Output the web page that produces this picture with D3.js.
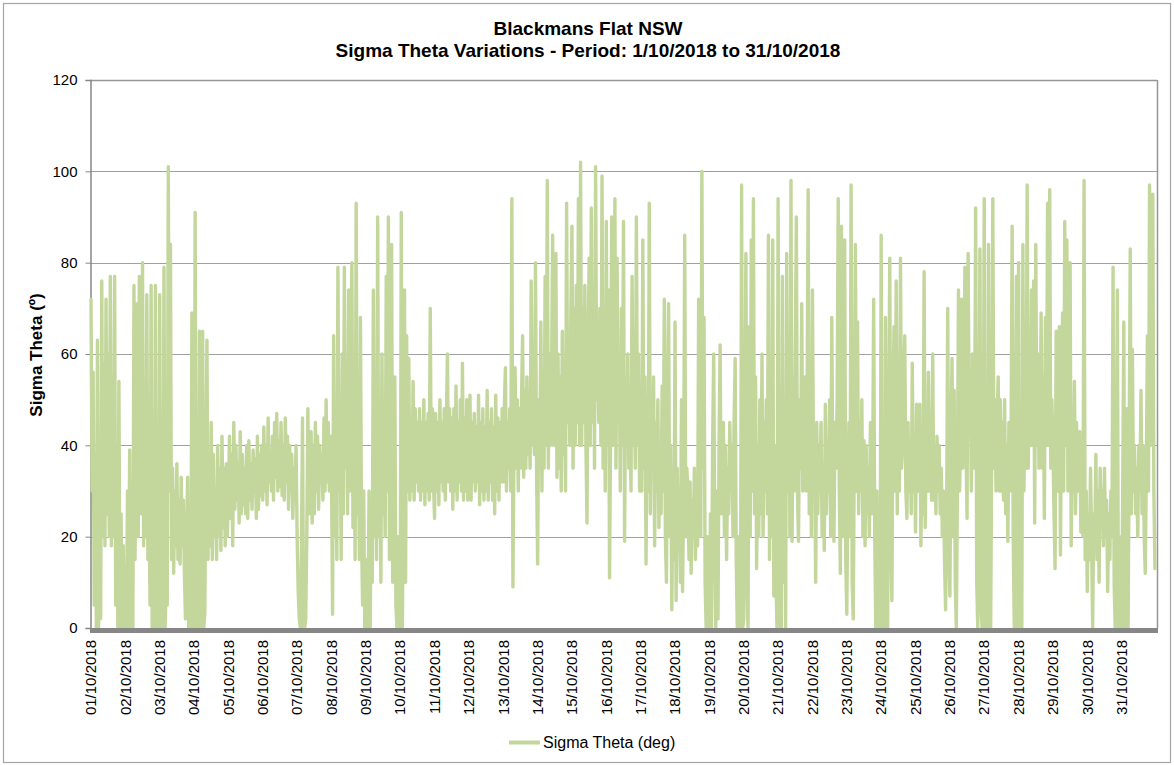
<!DOCTYPE html>
<html>
<head>
<meta charset="utf-8">
<script src="https://cdn.jsdelivr.net/npm/d3@7"></script>
<style>
  body { margin: 0; background: #ffffff; }
  text { font-family: Arial, "Liberation Sans", sans-serif; fill: #000; }
</style>
</head>
<body>
<svg id="chart" width="1174" height="765"></svg>
<script>
// ---- Data: Sigma Theta (deg), 32 readings per day (every 45 min) ----
const oct01 = [72, 30, 56, 5, 38, 0, 63, 0, 40, 2, 76, 20, 58, 18, 72, 25, 60, 20, 77, 18, 55, 20, 77, 5, 40, 0, 54, 0, 25, 0, 18, 0];
const oct02 = [10, 0, 30, 0, 39, 0, 18, 0, 75, 15, 40, 71, 20, 77, 35, 25, 80, 18, 40, 20, 73, 15, 30, 5, 75, 0, 20, 0, 75, 0, 35, 0];
const oct03 = [73, 0, 20, 0, 79, 0, 10, 5, 101, 30, 84, 15, 35, 12, 30, 18, 36, 15, 28, 14, 33, 18, 28, 12, 2, 20, 33, 0, 5, 0, 69, 0];
const oct04 = [0, 91, 0, 30, 0, 65, 0, 20, 65, 0, 3, 35, 63, 15, 35, 18, 45, 15, 38, 20, 30, 15, 40, 20, 35, 17, 42, 22, 35, 18, 36, 20];
const oct05 = [30, 42, 24, 38, 18, 45, 26, 40, 28, 36, 23, 43, 25, 38, 27, 35, 25, 40, 24, 41, 28, 36, 26, 39, 30, 37, 24, 42, 26, 38, 29, 40];
const oct06 = [28, 44, 30, 40, 27, 46, 32, 38, 30, 42, 28, 45, 33, 47, 30, 41, 31, 45, 29, 40, 28, 46, 32, 42, 26, 40, 30, 38, 24, 35, 28, 40];
const oct07 = [20, 8, 2, 0, 15, 46, 0, 0, 2, 20, 48, 25, 35, 43, 23, 40, 25, 45, 30, 42, 26, 40, 32, 38, 28, 46, 30, 50, 32, 45, 30, 42];
const oct08 = [35, 3, 64, 20, 45, 15, 79, 30, 50, 15, 60, 25, 79, 35, 55, 25, 74, 30, 60, 80, 22, 45, 15, 93, 25, 40, 15, 68, 20, 5, 30, 0];
const oct09 = [0, 15, 0, 30, 0, 25, 10, 74, 20, 45, 15, 90, 20, 50, 10, 60, 25, 40, 20, 77, 30, 90, 15, 50, 84, 10, 30, 55, 5, 0, 20, 0];
const oct10 = [0, 91, 0, 30, 74, 10, 64, 30, 59, 28, 45, 30, 54, 28, 48, 32, 45, 30, 48, 28, 45, 30, 50, 27, 45, 30, 47, 28, 70, 30, 48, 32];
const oct11 = [24, 47, 30, 45, 27, 50, 32, 45, 30, 48, 28, 45, 60, 32, 48, 30, 46, 26, 48, 30, 53, 28, 45, 32, 50, 30, 58, 28, 46, 30, 50, 28];
const oct12 = [30, 51, 28, 45, 32, 47, 30, 44, 32, 51, 27, 45, 30, 48, 28, 44, 30, 52, 28, 45, 32, 48, 28, 44, 25, 51, 30, 46, 28, 45, 32, 48];
const oct13 = [32, 48, 57, 30, 45, 35, 48, 30, 94, 9, 40, 57, 35, 50, 30, 48, 35, 50, 64, 33, 52, 35, 55, 38, 50, 35, 76, 40, 55, 38, 80, 35];
const oct14 = [14, 50, 35, 67, 30, 55, 35, 77, 40, 98, 35, 60, 40, 55, 86, 40, 60, 82, 33, 60, 35, 55, 30, 65, 38, 55, 30, 93, 45, 60, 40, 70];
const oct15 = [88, 35, 70, 40, 75, 45, 94, 40, 102, 40, 70, 45, 75, 40, 23, 60, 81, 40, 92, 45, 75, 35, 101, 50, 60, 45, 70, 40, 99, 35, 65, 30];
const oct16 = [89, 40, 74, 11, 45, 90, 40, 60, 94, 35, 81, 45, 60, 30, 70, 40, 89, 19, 55, 40, 60, 35, 50, 30, 77, 40, 55, 35, 90, 40, 60, 30];
const oct17 = [45, 30, 85, 35, 55, 14, 50, 30, 93, 25, 50, 35, 55, 18, 45, 30, 50, 22, 40, 25, 53, 30, 72, 20, 10, 50, 71, 20, 40, 4, 30, 15];
const oct18 = [67, 6, 35, 20, 28, 10, 50, 8, 30, 86, 20, 35, 30, 15, 32, 12, 28, 20, 35, 15, 30, 18, 72, 25, 20, 100, 35, 68, 10, 0, 20, 0];
const oct19 = [0, 25, 0, 40, 60, 20, 0, 30, 2, 40, 62, 25, 30, 45, 20, 40, 15, 35, 25, 45, 30, 40, 20, 45, 59, 15, 0, 20, 5, 0, 97, 0];
const oct20 = [2, 40, 82, 10, 0, 66, 20, 85, 30, 94, 25, 55, 13, 40, 20, 50, 25, 60, 20, 45, 30, 50, 25, 86, 15, 55, 20, 85, 7, 40, 10, 0];
const oct21 = [94, 0, 30, 0, 77, 10, 50, 0, 82, 30, 60, 20, 98, 19, 55, 30, 60, 90, 30, 19, 50, 35, 71, 30, 35, 55, 30, 50, 96, 25, 45, 20];
const oct22 = [74, 35, 40, 10, 45, 25, 40, 30, 45, 20, 35, 17, 49, 25, 40, 30, 50, 20, 68, 30, 19, 45, 35, 50, 94, 30, 12, 88, 40, 20, 85, 15];
const oct23 = [3, 30, 45, 20, 97, 10, 2, 40, 84, 30, 67, 25, 45, 30, 50, 20, 41, 18, 40, 25, 35, 20, 45, 25, 30, 72, 20, 0, 30, 0, 10, 0];
const oct24 = [86, 0, 20, 0, 68, 10, 0, 40, 81, 20, 6, 50, 66, 30, 76, 25, 50, 30, 81, 35, 40, 55, 64, 30, 24, 45, 30, 40, 25, 58, 30, 40];
const oct25 = [21, 49, 30, 40, 49, 18, 35, 25, 78, 22, 40, 30, 56, 30, 45, 28, 60, 28, 40, 25, 42, 30, 40, 25, 35, 20, 30, 15, 4, 25, 70, 20];
const oct26 = [7, 40, 59, 20, 52, 10, 0, 30, 74, 30, 40, 72, 35, 50, 79, 40, 24, 82, 45, 55, 30, 60, 40, 35, 92, 10, 0, 30, 83, 5, 0, 20];
const oct27 = [94, 0, 30, 0, 84, 10, 0, 40, 94, 35, 50, 30, 45, 55, 30, 50, 30, 45, 28, 50, 25, 40, 19, 45, 30, 40, 88, 20, 0, 30, 77, 0];
const oct28 = [80, 0, 30, 0, 84, 30, 50, 35, 97, 35, 60, 40, 74, 40, 76, 23, 84, 40, 60, 35, 40, 69, 35, 55, 24, 68, 40, 93, 40, 96, 35, 50];
const oct29 = [40, 25, 13, 65, 30, 50, 66, 16, 50, 69, 30, 89, 40, 85, 30, 55, 80, 18, 40, 30, 54, 25, 45, 30, 40, 43, 21, 35, 20, 98, 15, 30];
const oct30 = [8, 25, 15, 35, 20, 0, 25, 20, 38, 15, 30, 10, 35, 22, 30, 18, 35, 20, 28, 8, 25, 15, 30, 20, 79, 10, 0, 30, 74, 0, 20, 0];
const oct31 = [0, 30, 67, 0, 20, 48, 0, 40, 83, 25, 61, 30, 40, 25, 35, 20, 40, 30, 52, 25, 40, 20, 12, 35, 64, 30, 97, 40, 60, 95, 30, 13];

const dailyValues = [oct01, oct02, oct03, oct04, oct05, oct06, oct07, oct08, oct09, oct10,
  oct11, oct12, oct13, oct14, oct15, oct16, oct17, oct18, oct19, oct20,
  oct21, oct22, oct23, oct24, oct25, oct26, oct27, oct28, oct29, oct30, oct31];

const dayLabels = ["01/10/2018", "02/10/2018", "03/10/2018", "04/10/2018", "05/10/2018",
  "06/10/2018", "07/10/2018", "08/10/2018", "09/10/2018", "10/10/2018", "11/10/2018",
  "12/10/2018", "13/10/2018", "14/10/2018", "15/10/2018", "16/10/2018", "17/10/2018",
  "18/10/2018", "19/10/2018", "20/10/2018", "21/10/2018", "22/10/2018", "23/10/2018",
  "24/10/2018", "25/10/2018", "26/10/2018", "27/10/2018", "28/10/2018", "29/10/2018",
  "30/10/2018", "31/10/2018"];

const yTicks = [0, 20, 40, 60, 80, 100, 120];
const titleLines = ["Blackmans Flat NSW", "Sigma Theta Variations - Period: 1/10/2018 to 31/10/2018"];
const yAxisTitle = "Sigma Theta (º)";
const seriesName = "Sigma Theta (deg)";

// ---- Build the series (time in days since 1/10/2018 00:00) ----
const points = dailyValues.flatMap((vals, d) =>
  vals.map((v, i) => ({ t: d + i / vals.length, v })));

// ---- Layout ----
const svg = d3.select("#chart");
const plotL = 90, plotR = 1157, plotT = 80, plotB = 628;
const lineColor = "#c3d69b";

const x = d3.scaleLinear().domain([0, dailyValues.length]).range([plotL + 1, plotR - 1]);
const y = d3.scaleLinear().domain([0, 120]).range([plotB, plotT]);

// outer border
svg.append("rect").attr("x", 3.5).attr("y", 3.5).attr("width", 1167).attr("height", 759)
  .attr("fill", "#fff").attr("stroke", "#a6a6a6").attr("stroke-width", 1.2);

// gridlines
svg.append("g").selectAll("line").data(yTicks.filter(t => t > 0 && t < 120)).join("line")
  .attr("x1", plotL).attr("x2", plotR)
  .attr("y1", d => Math.round(y(d)) + 0.5).attr("y2", d => Math.round(y(d)) + 0.5)
  .attr("stroke", "#a0a0a0").attr("stroke-width", 1);

// plot frame top & right
svg.append("line").attr("x1", plotL).attr("x2", plotR).attr("y1", plotT + 0.5).attr("y2", plotT + 0.5)
  .attr("stroke", "#969696").attr("stroke-width", 1.5);
svg.append("line").attr("x1", plotR + 0.5).attr("x2", plotR + 0.5).attr("y1", plotT).attr("y2", plotB)
  .attr("stroke", "#969696").attr("stroke-width", 1.5);

// y axis
const yAxis = d3.axisLeft(y).tickValues(yTicks).tickSize(5).tickPadding(8);
const gy = svg.append("g").attr("transform", `translate(${plotL + 0.5},0)`).call(yAxis);
gy.select(".domain").attr("stroke", "#868686").attr("stroke-width", 1.5);
gy.selectAll(".tick line").attr("stroke", "#868686");
gy.selectAll(".tick text").attr("font-size", 15).attr("font-family", "Arial, 'Liberation Sans', sans-serif").attr("fill", "#000");

// data line
const line = d3.line().x(d => x(d.t)).y(d => y(d.v));
svg.append("path").datum(points)
  .attr("d", line)
  .attr("fill", "none")
  .attr("stroke", lineColor)
  .attr("stroke-width", 3.4)
  .attr("stroke-linejoin", "round")
  .attr("stroke-linecap", "round");

// x axis (thick zero line) + day labels
svg.append("rect").attr("x", plotL).attr("y", plotB).attr("width", plotR - plotL + 1).attr("height", 5)
  .attr("fill", "#868686");

svg.append("g").selectAll("text").data(dayLabels).join("text")
  .attr("transform", (d, i) => `translate(${x(i)},640) rotate(-90)`)
  .attr("text-anchor", "end")
  .attr("dy", "0.35em")
  .attr("font-size", 15)
  .text(d => d);

// titles
svg.append("text").attr("x", 588).attr("y", 35).attr("text-anchor", "middle")
  .attr("font-size", 19).attr("font-weight", "bold").text(titleLines[0]);
svg.append("text").attr("x", 588).attr("y", 57).attr("text-anchor", "middle")
  .attr("font-size", 19).attr("font-weight", "bold").text(titleLines[1]);

svg.append("text").attr("transform", "translate(42,355) rotate(-90)")
  .attr("text-anchor", "middle").attr("font-size", 17).attr("font-weight", "bold").text(yAxisTitle);

// legend
svg.append("line").attr("x1", 509).attr("x2", 540).attr("y1", 742.5).attr("y2", 742.5)
  .attr("stroke", lineColor).attr("stroke-width", 4);
svg.append("text").attr("x", 543).attr("y", 748).attr("font-size", 16).text(seriesName);
</script>
</body>
</html>
